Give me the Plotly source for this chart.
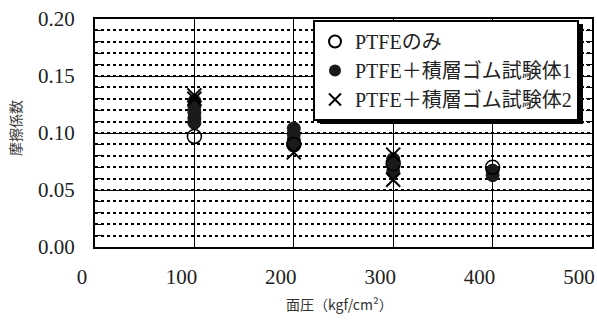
import plotly.graph_objects as go

# Data
ptfe_x = [100, 200, 300, 400]
ptfe_y = [0.097, 0.090, 0.073, 0.070]

spec1_x = [100, 100, 100, 100, 100, 200, 200, 200, 200, 300, 300, 300, 400, 400]
spec1_y = [0.128, 0.123, 0.118, 0.113, 0.109, 0.104, 0.099, 0.094, 0.089, 0.077, 0.071, 0.066, 0.067, 0.063]

spec2_x = [100, 100, 200, 300, 300]
spec2_y = [0.133, 0.130, 0.083, 0.081, 0.059]

names = ["PTFEのみ", "PTFE＋積層ゴム試験体1", "PTFE＋積層ゴム試験体2"]
x_ticks = [0, 100, 200, 300, 400, 500]
y_ticks = [0.00, 0.05, 0.10, 0.15, 0.20]
x_title = "面圧（kgf/cm²）"
y_title = "摩擦係数"

fig = go.Figure()
fig.add_trace(go.Scatter(x=spec1_x, y=spec1_y, mode="markers", name=names[1],
                         marker=dict(symbol="circle", size=13, color="#1a1a1a",
                                     line=dict(color="#1a1a1a", width=1)), showlegend=False))
fig.add_trace(go.Scatter(x=spec2_x, y=spec2_y, mode="markers", name=names[2],
                         marker=dict(symbol="x-thin", size=14, color="black",
                                     line=dict(color="black", width=2)), showlegend=False))
fig.add_trace(go.Scatter(x=ptfe_x, y=ptfe_y, mode="markers", name=names[0],
                         marker=dict(symbol="circle-open", size=14, color="black",
                                     line=dict(color="black", width=1.5)), showlegend=False))

# legend-only traces in proper order
fig.add_trace(go.Scatter(x=[None], y=[None], mode="markers", name=names[0],
                         marker=dict(symbol="circle-open", size=15, color="black",
                                     line=dict(color="black", width=1.5))))
fig.add_trace(go.Scatter(x=[None], y=[None], mode="markers", name=names[1],
                         marker=dict(symbol="circle", size=15, color="#1a1a1a")))
fig.add_trace(go.Scatter(x=[None], y=[None], mode="markers", name=names[2],
                         marker=dict(symbol="x-thin", size=15, color="black",
                                     line=dict(color="black", width=2))))

serif = "Liberation Serif, Noto Sans CJK JP, serif"
PL, PR, PT, PB = 95, 592, 19, 247
PW, PH = PR - PL, PB - PT

fig.update_layout(
    width=597, height=320,
    margin=dict(l=PL, r=597 - PR, t=PT, b=320 - PB, autoexpand=False),
    paper_bgcolor="white", plot_bgcolor="white",
    font=dict(family=serif, color="#222222"),
    showlegend=True,
    legend=dict(x=(313 - PL) / PW, y=1 - 1 / PH, xanchor="left", yanchor="top",
                bgcolor="white", bordercolor="black", borderwidth=2,
                font=dict(family=serif, size=20, color="#222222"),
                tracegroupgap=0, itemsizing="constant", itemwidth=30),
    xaxis=dict(range=[0, 500], tickvals=x_ticks, ticktext=[str(v) for v in x_ticks],
               showgrid=True, gridcolor="black", gridwidth=1, automargin=False,
               zeroline=False, showline=True, linecolor="black", linewidth=2, mirror=True,
               ticks="", ticklabelshift=-13, ticklabelstandoff=10, ticklabeloverflow="allow",
               tickfont=dict(size=21, family=serif, color="#222222")),
    yaxis=dict(range=[0, 0.20], tickvals=y_ticks, ticktext=["%.2f" % v for v in y_ticks],
               showgrid=True, gridcolor="black", gridwidth=1.2, automargin=False,
               zeroline=False, showline=True, linecolor="black", linewidth=2, mirror="allticks",
               ticks="inside", ticklen=6, tickcolor="black", ticklabelstandoff=14,
               minor=dict(dtick=0.01, showgrid=True, gridcolor="black", gridwidth=1.8,
                          griddash="dot", ticks="inside", ticklen=6, tickcolor="black"),
               tickfont=dict(size=21, family=serif, color="#222222")),
    annotations=[
        dict(text=x_title, xref="paper", yref="paper", x=(339 - PL) / PW, y=-(304 - PB) / PH,
             xanchor="center", yanchor="middle", showarrow=False,
             font=dict(size=14, family="Noto Sans CJK JP", color="#333333")),
        dict(text=y_title, xref="paper", yref="paper", x=-(PL - 15) / PW, y=(PB - 128) / PH,
             xanchor="center", yanchor="middle", showarrow=False, textangle=-90,
             font=dict(size=14, family="Noto Sans CJK JP", color="#333333")),
    ],
)

# legend drop shadow
fig.add_shape(type="rect", xref="paper", yref="paper",
              x0=(320 - PL) / PW, x1=(583 - PL) / PW,
              y0=1 - (124 - PT) / PH, y1=1 - (24 - PT) / PH,
              fillcolor="black", line=dict(width=0), layer="above")

fig.write_html("out.html", config={"displayModeBar": False},
               post_script="document.body.style.margin='0';document.body.style.padding='0';")
